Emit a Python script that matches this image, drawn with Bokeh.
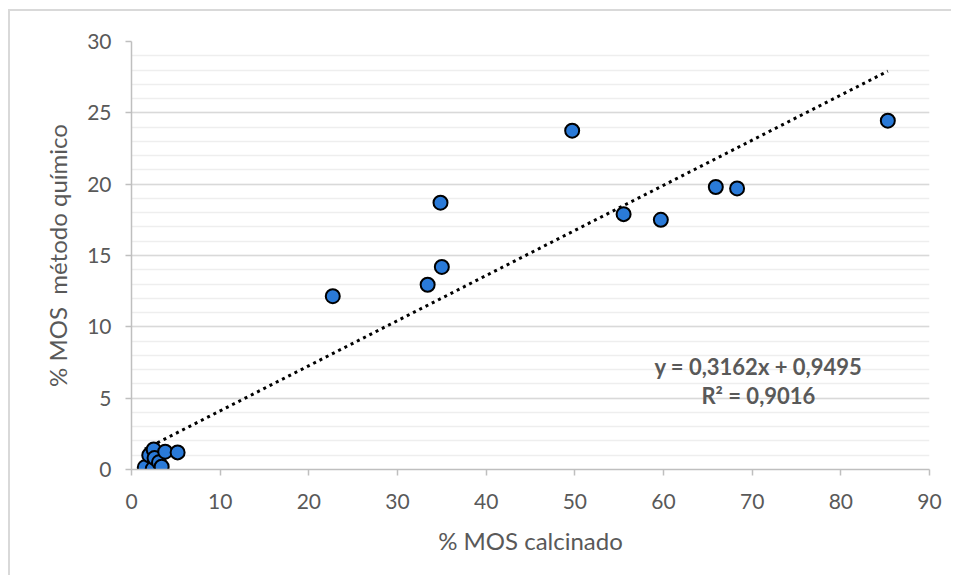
from bokeh.plotting import figure
from bokeh.embed import file_html
from bokeh.resources import INLINE
from bokeh.models import Range1d, FixedTicker, Label, ColumnDataSource

# data
mos_calcinado = [1.5, 2.0, 2.4, 2.5, 2.6, 3.1, 3.4, 3.8, 5.2,
                 22.7, 33.4, 34.85, 35.0, 49.7, 55.5, 59.7, 65.9, 68.3, 85.3]
mos_quimico = [0.15, 1.0, 0.05, 1.4, 0.8, 0.5, 0.2, 1.25, 1.2,
               12.15, 12.95, 18.7, 14.2, 23.75, 17.9, 17.5, 19.8, 19.7, 24.45]
slope = 0.3162
intercept = 0.9495
r2_text = "R² = 0,9016"
eq_text = "y = 0,3162x + 0,9495"
x_ticks = [0, 10, 20, 30, 40, 50, 60, 70, 80, 90]
y_ticks = [0, 5, 10, 15, 20, 25, 30]
y_minor = list(range(0, 31))

FONT = "Lato"
GRAY = "#595959"

p = figure(width=943, height=566, output_backend="svg", toolbar_location=None,
           x_range=Range1d(0, 90), y_range=Range1d(0, 30),
           min_border_left=121, min_border_right=24, min_border_top=30,
           min_border_bottom=108,
           styles={"border-left": "2px solid #d9d9d9", "border-top": "2px solid #d9d9d9",
                   "margin-left": "8px", "margin-top": "9px"})
p.outline_line_color = None
p.background_fill_color = "white"
p.border_fill_color = "white"

# grids
p.xgrid.visible = False
p.ygrid.ticker = FixedTicker(ticks=y_ticks, minor_ticks=y_minor)
p.ygrid.grid_line_color = "#d9d9d9"
p.ygrid.grid_line_width = 1.5
p.ygrid.minor_grid_line_color = "#eeeeee"
p.ygrid.minor_grid_line_width = 1.5

for ax in (p.xaxis[0], p.yaxis[0]):
    ax.axis_line_color = "#bfbfbf"
    ax.axis_line_width = 1.5
    ax.major_tick_line_color = "#bfbfbf"
    ax.major_tick_line_width = 1.5
    ax.major_tick_out = 6
    ax.major_tick_in = 0
    ax.minor_tick_line_color = None
    ax.major_label_text_font = FONT
    ax.major_label_text_font_size = "21px"
    ax.major_label_text_color = GRAY
    ax.axis_label_text_font = FONT
    ax.axis_label_text_font_size = "24px"
    ax.axis_label_text_font_style = "normal"
    ax.axis_label_text_color = GRAY

p.xaxis.ticker = FixedTicker(ticks=x_ticks)
p.yaxis.ticker = FixedTicker(ticks=y_ticks)
p.xaxis.major_label_standoff = 18
p.yaxis.major_label_standoff = 14
p.xaxis.axis_label = "% MOS calcinado"
p.yaxis.axis_label = "% MOS\u00a0 método químico"
p.xaxis.axis_label_standoff = 14
p.yaxis.axis_label_standoff = 12

# trendline
xmin, xmax = min(mos_calcinado), max(mos_calcinado)
p.line([xmin, xmax], [slope * xmin + intercept, slope * xmax + intercept],
       line_color="black", line_width=3, line_dash="3 4")

src = ColumnDataSource(dict(x=mos_calcinado, y=mos_quimico))
p.scatter("x", "y", source=src, size=14, fill_color="#2a7ad8",
          line_color="black", line_width=2)

p.add_layout(Label(x=70.7, y=7.2, text=eq_text,
                   text_font=FONT, text_font_size="22px", text_font_style="bold",
                   text_color=GRAY, text_align="center", text_baseline="middle"))
p.add_layout(Label(x=70.7, y=5.2, text=r2_text,
                   text_font=FONT, text_font_size="22px", text_font_style="bold",
                   text_color=GRAY, text_align="center", text_baseline="middle"))

open("out.html", "w").write(file_html(p, INLINE))
